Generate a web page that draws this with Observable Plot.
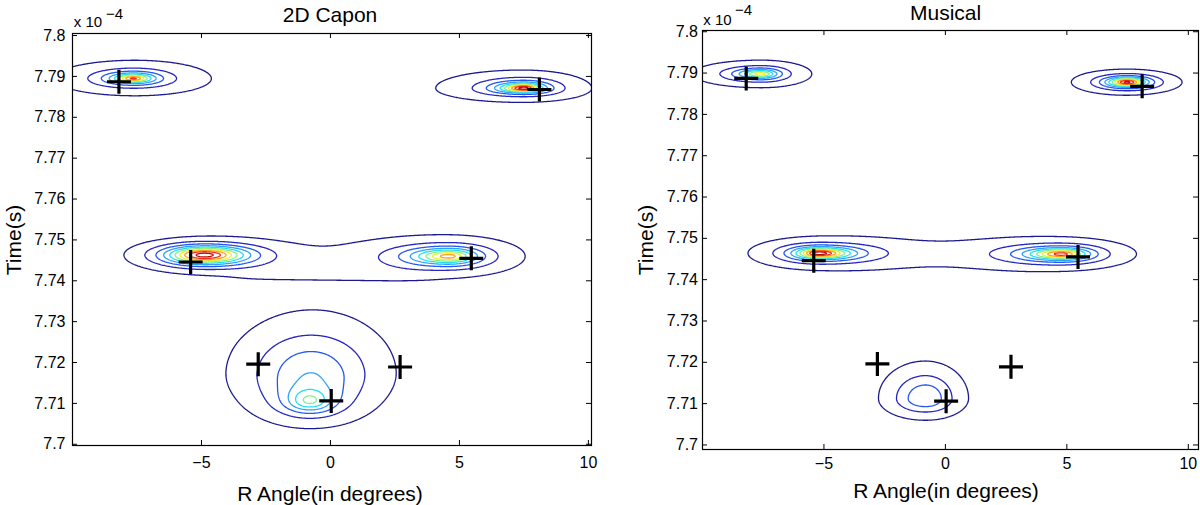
<!DOCTYPE html>
<html><head><meta charset="utf-8">
<script src="https://cdn.jsdelivr.net/npm/d3@7"></script>
<script src="https://cdn.jsdelivr.net/npm/@observablehq/plot@0.6"></script>
<style>
body{margin:0;background:#fff;}
#fig{position:relative;width:1200px;height:505px;overflow:hidden;font-family:"Liberation Sans",Arial,Helvetica,sans-serif;color:#000;background:#fff;}
.t{position:absolute;white-space:nowrap;line-height:1;transform:translate(-50%,-50%);}
.r{transform:translate(-50%,-50%) rotate(-90deg);}
.p{position:absolute;top:0;}
</style></head><body><div id="fig"></div>
<script>
// ---- axis ticks and contour levels ----
const xTicks = [-5, 0, 5, 10];
const yTicks = [7.70, 7.71, 7.72, 7.73, 7.74, 7.75, 7.76, 7.77, 7.78, 7.79, 7.80];
const levels = [1, 2, 3, 4, 5, 6, 7, 8, 9, 10];
const levelColors = ["#1b1b8f", "#2626c0", "#2458ee", "#2ea2ff", "#24e0ee", "#84f28c", "#eef22a", "#ffa21a", "#ff2a1a", "#b80f0f"];

// ---- true source positions (crosses), angle in degrees, time in 1e-4 s ----
const srcAngle = [-8.2, 8.1, -5.42, 5.46, -2.8, 2.7, 0.03];
const srcTime = [7.7887, 7.7868, 7.7446, 7.7455, 7.7196, 7.7189, 7.7106];

// ---- 2D Capon spectrum peaks ----
const caponAngle = [-7.64, 7.5, -4.9, 4.59, 0, -0.75, -0.8];
const caponTime = [7.7895, 7.7871, 7.7463, 7.746, 7.741, 7.718, 7.7105];
const caponAmp = [9.2, 10.6, 10.2, 8.3, 0.35, 3.4, 4.54];
const caponPow = [0.7, 0.8, 2, 1, 2, 2, 1.5];
const caponExp = [2, 2, 2, 2, 6, 2, 2];
const caponWL = [0.61, 0.72, 1.95, 1.35, 4.2, 3.3, 1.1];
const caponWR = [0.57, 0.58, 2.15, 1.04, 4.2, 3.3, 1.1];
const caponWU = [0.00087, 0.00097, 0.0028, 0.0018, 0.0054, 0.0145, 0.004];
const caponWD = [0.00082, 0.00075, 0.0029, 0.0018, 0.0015, 0.0118, 0.0033];

// ---- Musical spectrum peaks ----
const musicAngle = [-7.6, 7.48, -5.2, 4.79, 0, -0.82];
const musicTime = [7.7898, 7.7878, 7.7464, 7.7462, 7.7461, 7.7112];
const musicAmp = [7.5, 10.3, 10.5, 9.3, 0.19, 3.95];
const musicPow = [0.8, 1, 1, 1, 1, 1.5];
const musicExp = [2, 2, 2, 2, 6, 2];
const musicWL = [0.81, 0.72, 0.88, 1.3, 4, 1.55];
const musicWR = [0.6, 0.72, 1.15, 1.0, 4, 1.42];
const musicWU = [0.00096, 0.001, 0.0012, 0.0013, 0.004, 0.0072];
const musicWD = [0.00096, 0.001, 0.0012, 0.0013, 0.004, 0.0042];

function peaks(ax, ty, amp, pw, ex, wl, wr, wu, wd) {
  return ax.map((x, i) => ({x, y: ty[i], a: amp[i], p: pw[i], e: ex[i], wl: wl[i], wr: wr[i], wu: wu[i], wd: wd[i]}));
}
function field(pk) {
  return (x, y) => {
    let s = 0;
    for (const q of pk) {
      const dx = Math.abs(x - q.x) / (x < q.x ? q.wl : q.wr);
      const dy = (y - q.y) / (y > q.y ? q.wu : q.wd);
      s += q.a / Math.pow(1 + Math.pow(dx, q.e) + dy * dy, q.p);
    }
    return s;
  };
}
const sources = srcAngle.map((a, i) => ({angle: a, time: srcTime[i]}));
const plusSymbol = {
  draw(ctx, size) {
    const r = Math.sqrt(size / Math.PI);
    ctx.moveTo(-r, 0); ctx.lineTo(r, 0);
    ctx.moveTo(0, -r); ctx.lineTo(0, r);
  }
};
const fmtX = d => (d < 0 ? "\u2212" + (-d) : String(d));
const fmtY = d => String(+d.toFixed(2));
const FONT = '"Liberation Sans", Arial, Helvetica, sans-serif';

function panel(pk, xDomain, yDomain, m, w, h, padX, padY) {
  const pw = w - m.l - m.r, ph = h - m.t - m.b;
  return Plot.plot({
    width: w, height: h,
    marginLeft: m.l, marginRight: m.r, marginTop: m.t, marginBottom: m.b,
    x: {domain: xDomain},
    y: {domain: yDomain},
    color: {type: "ordinal", domain: levels, range: levelColors},
    style: {fontFamily: FONT, fontSize: "16px", background: "white", color: "black", overflow: "visible"},
    marks: [
      Plot.contour({
        value: field(pk),
        x1: xDomain[0] - 1, x2: xDomain[1] + 1,
        y1: yDomain[0] - 0.004, y2: yDomain[1] + 0.004,
        thresholds: levels, stroke: "value", fill: "none",
        strokeWidth: 1.3, pixelSize: 1, clip: true
      }),
      Plot.dot(sources, {x: "angle", y: "time", symbol: plusSymbol, r: 12, stroke: "black", strokeWidth: 3.2}),
      Plot.ruleX(xTicks, {x: d => d, insetTop: ph - 5, stroke: "black"}),
      Plot.ruleX(xTicks, {x: d => d, insetBottom: ph - 5, stroke: "black"}),
      Plot.ruleY(yTicks, {y: d => d, insetRight: pw - 5, stroke: "black"}),
      Plot.ruleY(yTicks, {y: d => d, insetLeft: pw - 5, stroke: "black"}),
      Plot.axisX(xTicks, {tickSize: 0, tickPadding: padX, label: null, tickFormat: fmtX, fontSize: 16}),
      Plot.axisY(yTicks, {tickSize: 0, tickPadding: padY, label: null, tickFormat: fmtY, fontSize: 16}),
      Plot.frame({stroke: "black", strokeWidth: 1.2})
    ]
  });
}

const fig = document.getElementById("fig");
const left = panel(peaks(caponAngle, caponTime, caponAmp, caponPow, caponExp, caponWL, caponWR, caponWU, caponWD),
  [-10, 10.12], [7.6997, 7.8005], {l: 72, r: 9, t: 33, b: 60}, 600, 505, 11.3, 7);
left.classList.add("p"); left.style.left = "0px";
const right = panel(peaks(musicAngle, musicTime, musicAmp, musicPow, musicExp, musicWL, musicWR, musicWU, musicWD),
  [-10, 10.42], [7.6989, 7.8003], {l: 102, r: 2, t: 30, b: 56}, 600, 505, 8.3, 4.5);
right.classList.add("p"); right.style.left = "600px";
fig.appendChild(left); fig.appendChild(right);

function label(text, x, y, size, cls) {
  const d = document.createElement("div");
  d.className = "t" + (cls ? " " + cls : "");
  d.textContent = text;
  d.style.left = x + "px"; d.style.top = y + "px"; d.style.fontSize = size + "px";
  fig.appendChild(d);
}
label("2D Capon", 330, 14, 21);
label("Musical", 945.6, 11.5, 21);
label("R Angle(in degrees)", 330, 492.5, 21);
label("R Angle(in degrees)", 946, 490.3, 21);
label("Time(s)", 12.5, 240, 21, "r");
label("Time(s)", 645, 240, 21, "r");
label("x 10", 88, 21, 15);
label("\u22124", 114.5, 13, 15);
label("x 10", 717.5, 19, 15);
label("\u22124", 743.5, 8.5, 15);
</script></body></html>
